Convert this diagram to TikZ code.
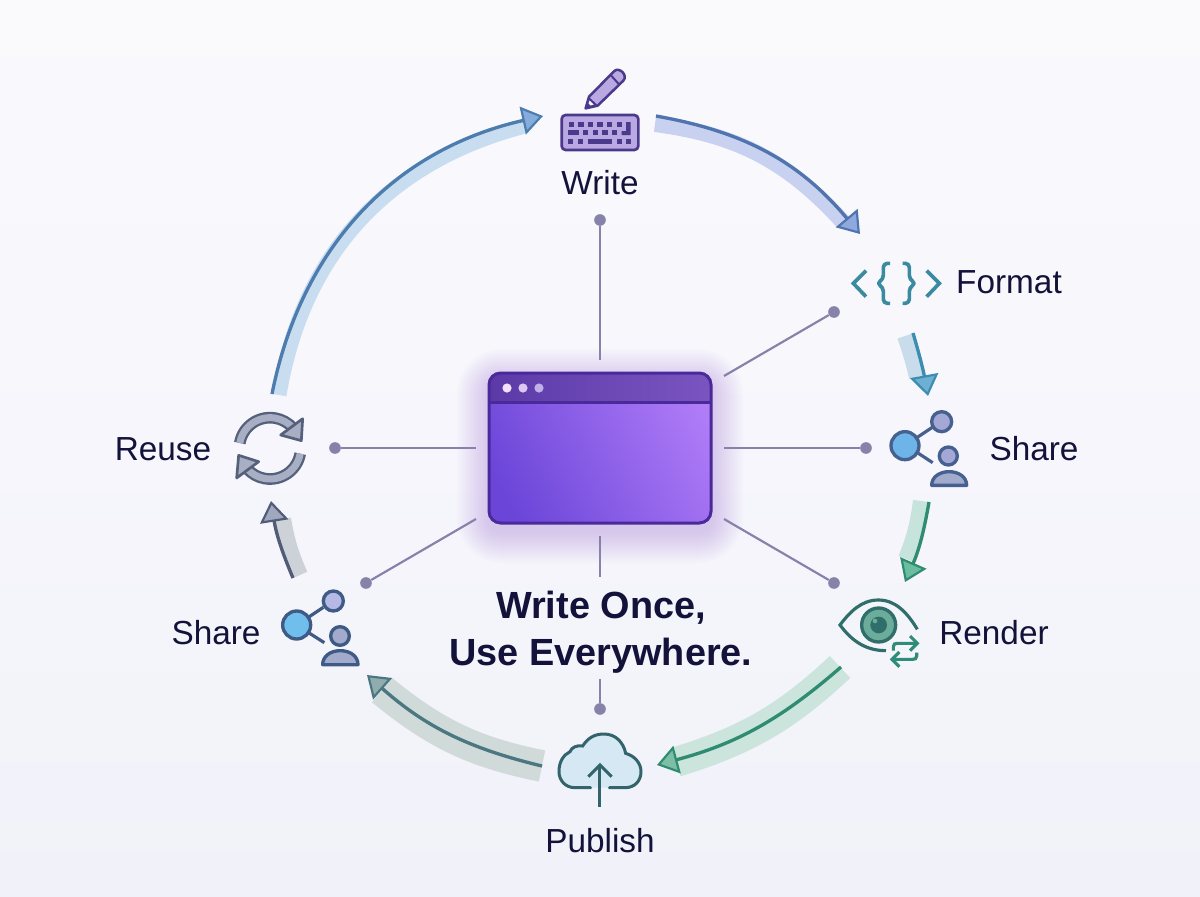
\documentclass[tikz,border=0pt]{standalone}
\usepackage{fontspec}
\setmainfont{Liberation Sans}
\usetikzlibrary{arrows.meta,calc}
\definecolor{ink}{HTML}{12123A}
\definecolor{spoke}{HTML}{8682AA}
\definecolor{kbd}{HTML}{4A3A8C}
\definecolor{kbf}{HTML}{B9A8E2}
\definecolor{fmt}{HTML}{3A8AA0}
\definecolor{eyec}{HTML}{2F6E6A}
\definecolor{eyeF}{HTML}{6CAC9A}
\definecolor{rep}{HTML}{2F8C78}
\definecolor{cloudc}{HTML}{33636B}
\definecolor{cloudF}{HTML}{D5E8F4}
\definecolor{shareS}{HTML}{46618F}
\definecolor{shareT}{HTML}{3F5A85}
\definecolor{shareB}{HTML}{6DB5E8}
\definecolor{shareC}{HTML}{A3A8D6}
\definecolor{shareD}{HTML}{A3ABCD}
\definecolor{shareE}{HTML}{6FBEEB}
\definecolor{shareF}{HTML}{B6B8E6}
\definecolor{reuD}{HTML}{55607A}
\definecolor{reuF}{HTML}{A8AFC4}
\definecolor{bgA}{HTML}{FAFAFD}
\definecolor{bgB}{HTML}{F6F6FC}
\definecolor{bgC}{HTML}{F1F1F9}
\definecolor{glow}{HTML}{7B4FE0}
\definecolor{hubA}{HTML}{6A45D8}
\definecolor{hubB}{HTML}{B07CF8}
\definecolor{hubE}{HTML}{4A2A9A}
\definecolor{barA}{HTML}{5B3AA8}
\definecolor{barB}{HTML}{7A55C0}
\definecolor{dotA}{HTML}{F6E0FA}
\definecolor{dotB}{HTML}{DCC8F0}
\definecolor{dotC}{HTML}{BFB0E8}
\definecolor{arcA}{HTML}{C9D1F0}
\definecolor{edgeA}{HTML}{4F74AE}
\definecolor{tipA}{HTML}{8FA8DE}
\definecolor{arcB}{HTML}{C8DCEB}
\definecolor{edgeB}{HTML}{3D8DB0}
\definecolor{tipB}{HTML}{6DB0D4}
\definecolor{arcC}{HTML}{C6E3DC}
\definecolor{edgeC}{HTML}{2F8C70}
\definecolor{tipC}{HTML}{6BBDA0}
\definecolor{arcD}{HTML}{CBE5DC}
\definecolor{tipD}{HTML}{7DBFA5}
\definecolor{arcE}{HTML}{CFDAD9}
\definecolor{edgeE}{HTML}{4B7780}
\definecolor{tipE}{HTML}{90ACAF}
\definecolor{arcF}{HTML}{CDD2D8}
\definecolor{edgeF}{HTML}{525C78}
\definecolor{tipF}{HTML}{9FA8BC}
\definecolor{arcG}{HTML}{C9DDF0}
\definecolor{edgeG}{HTML}{4C7DAE}
\definecolor{tipG}{HTML}{85ACDC}
\tikzset{
  lbl/.style={text=ink,font=\fontsize{20}{24}\selectfont,inner sep=0pt},
  spokeline/.style={draw=spoke,line width=1.3pt},
  hubdot/.style={circle,fill=spoke,minimum size=7pt,inner sep=0pt},
  flowtip/.style={line width=2pt,-{Triangle[length=12.5pt,width=17pt,line width=1.3pt,fill=#1]}},
}
\newcommand{\flowarc}[9]{%
  \draw[color=#3,line width=#4] (#1) to[bend left=#5] (#2);
  \draw[color=#8,flowtip=#9] (#6) to[bend left=#5] (#7);
}
\begin{document}
\begin{tikzpicture}[x=.6pt,y=-.6pt]
\useasboundingbox (0,0) rectangle (1200,896);
\shade[top color=bgA,bottom color=bgC,middle color=bgB] (0,0) rectangle (1200,896);

% glow
\foreach \g in {1,...,16}
  \fill[glow,opacity=.017,rounded corners=(6+1.3*\g)*1pt] (489-2*\g,381-2*\g) rectangle (711+2*\g,531+2*\g);

% hub
\node[minimum width=133.2pt,minimum height=90pt,inner sep=0pt,outer sep=0pt,rounded corners=7pt,fill=hubA] (hub) at (600,448) {};
\begin{scope}
  \clip[rounded corners=7pt] (hub.south west) rectangle (hub.north east);
  \shade[left color=hubA,right color=hubB,shading angle=118] (480,360) rectangle (720,535);
  \shade[left color=barA,right color=barB] (489,373) rectangle (711,402);
  \draw[color=hubE,line width=1.8pt] (489,402) -- (711,402);
\end{scope}
\draw[color=hubE,line width=1.8pt,rounded corners=7pt] (hub.south west) rectangle (hub.north east);
\fill[color=dotA] (507,388) circle (4.6);
\fill[color=dotB] (523,388) circle (4.6);
\fill[color=dotC] (539,388) circle (4.6);

% spokes
\node[hubdot] (dN) at (600,220) {};
\node[hubdot] (dNE) at (834,312) {};
\node[hubdot] (dE) at (866,448) {};
\node[hubdot] (dSE) at (834,583) {};
\node[hubdot] (dS) at (600,709) {};
\node[hubdot] (dSW) at (366,583) {};
\node[hubdot] (dW) at (335,448) {};
\coordinate (sN) at (600,360);
\coordinate (sNE) at (724,376);
\coordinate (sE) at (724,448);
\coordinate (sSE) at (724,519);
\coordinate (sS) at (600,536);
\coordinate (sSa) at (600,577);
\coordinate (sSb) at (600,679);
\coordinate (sSW) at (476,519);
\coordinate (sW) at (476,448);
\draw[spokeline] (sN) -- (dN);
\draw[spokeline] (sNE) -- (dNE);
\draw[spokeline] (sE) -- (dE);
\draw[spokeline] (sSE) -- (dSE);
\draw[spokeline] (sS) -- (sSa);
\draw[spokeline] (sSb) -- (dS);
\draw[spokeline] (sSW) -- (dSW);
\draw[spokeline] (sW) -- (dW);

% flow arcs
\coordinate (b1a) at (655,124); \coordinate (b1b) at (843,222);
\coordinate (e1a) at (656,116); \coordinate (e1b) at (860,234);
\flowarc{b1a}{b1b}{arcA}{9.6pt}{20}{e1a}{e1b}{edgeA}{tipA}
\coordinate (b2a) at (905,336); \coordinate (b2b) at (917,377);
\coordinate (e2a) at (913,333); \coordinate (e2b) at (928,396);
\flowarc{b2a}{b2b}{arcB}{9.6pt}{3}{e2a}{e2b}{edgeB}{tipB}
\coordinate (b3a) at (921,501); \coordinate (b3b) at (906,559);
\coordinate (e3a) at (929,502); \coordinate (e3b) at (905,582);
\flowarc{b3a}{b3b}{arcC}{9.6pt}{7}{e3a}{e3b}{edgeC}{tipC}
\coordinate (b4a) at (840,667); \coordinate (b4b) at (676,762);
\coordinate (e4a) at (841,667); \coordinate (e4b) at (657,765);
\flowarc{b4a}{b4b}{arcD}{18pt}{13}{e4a}{e4b}{edgeC}{tipD}
\coordinate (b5a) at (542,766); \coordinate (b5b) at (382,690);
\coordinate (e5a) at (542,766); \coordinate (e5b) at (367,675);
\flowarc{b5a}{b5b}{arcE}{19pt}{14}{e5a}{e5b}{edgeE}{tipE}
\coordinate (b6a) at (300,575); \coordinate (b6b) at (283,519);
\coordinate (e6a) at (293,578); \coordinate (e6b) at (271,501);
\flowarc{b6a}{b6b}{arcF}{9.6pt}{7}{e6a}{e6b}{edgeF}{tipF}
\coordinate (b7a) at (279,395); \coordinate (b7b) at (525,126);
\coordinate (e7a) at (272,394); \coordinate (e7b) at (543,116);
\flowarc{b7a}{b7b}{arcG}{9pt}{33}{e7a}{e7b}{edgeG}{tipG}

% keyboard + pencil
\begin{scope}[shift={(520,50)},x=.2pt,y=-.2pt]
  \draw[color=kbd,fill=kbf,line width=1.6pt,rounded corners=2.4pt] (125,195) rectangle (355,300);
  \foreach \k in {155,183,212,240,269,298} \fill[kbd] (\k-8,216) rectangle (\k+8,230);
  \fill[kbd] (318,216) -- (332,216) -- (332,255) -- (305,255) -- (305,243) -- (318,243) -- cycle;
  \fill[kbd] (145,241) rectangle (178,255);
  \foreach \k in {197,226,255,284} \fill[kbd] (\k-8,241) rectangle (\k+8,255);
  \foreach \k in {152,181,298,326} \fill[kbd] (\k-8,267) rectangle (\k+8,281);
  \fill[kbd] (205,267) rectangle (275,281);
  \draw[color=kbd,fill=kbf,line width=1.5pt,line join=round] (197,175) -- (207,140) -- (283,63) .. controls (297,50) and (325,75) .. (310,92) -- (233,167) -- cycle;
  \draw[color=kbd,fill=white!85!kbf,line width=1.2pt,line join=round] (197,175) -- (207,145) -- (228,165) -- cycle;
  \fill[kbd] (197,175) -- (203,158) -- (214,169) -- cycle;
  \draw[color=kbd,line width=1.2pt] (272,75) -- (298,104);
\end{scope}

% format icon
\begin{scope}[shift={(820,250)},x=.2pt,y=-.2pt]
  \draw[color=fmt,line width=2.2pt] (138,62) -- (100,100) -- (138,140);
  \draw[color=fmt,line width=2.2pt] (320,62) -- (358,100) -- (320,140);
  \draw[color=fmt,line width=2.2pt,line join=round,rounded corners=2.4pt] (210,40) -- (190,40) -- (190,88) -- (170,100) -- (190,112) -- (190,160) -- (210,160);
  \draw[color=fmt,line width=2.2pt,line join=round,rounded corners=2.4pt] (248,40) -- (268,40) -- (268,88) -- (288,100) -- (268,112) -- (268,160) -- (248,160);
\end{scope}

% share right
\begin{scope}[shift={(820,250)},x=.2pt,y=-.2pt]
  \draw[color=shareS,line width=1.9pt] (280,570) -- (340,530);
  \draw[color=shareS,line width=1.9pt] (280,600) -- (338,638);
  \draw[color=shareS,fill=shareB,line width=2pt] (255,587) circle (42);
  \draw[color=shareS,fill=shareC,line width=2pt] (365,515) circle (30);
  \draw[color=shareS,fill=shareC,line width=2pt] (385,618) circle (27);
  \draw[color=shareS,fill=shareD,line width=2pt,line join=round] (335,706) .. controls (335,680) and (360,665) .. (387,665) .. controls (415,665) and (440,680) .. (440,706) -- cycle;
\end{scope}

% share left
\begin{scope}[shift={(160,490)},x=.2pt,y=-.2pt]
  \draw[color=shareT,line width=1.9pt] (430,392) -- (490,352);
  \draw[color=shareT,line width=1.9pt] (430,418) -- (493,458);
  \draw[color=shareT,fill=shareE,line width=2pt] (410,405) circle (42);
  \draw[color=shareT,fill=shareF,line width=2pt] (520,333) circle (30);
  \draw[color=shareT,fill=shareD,line width=2pt] (540,438) circle (28);
  \draw[color=shareT,fill=shareD,line width=2pt,line join=round] (488,524) .. controls (488,498) and (512,482) .. (541,482) .. controls (570,482) and (594,498) .. (594,524) -- cycle;
\end{scope}

% render (eye)
\begin{scope}[shift={(640,490)},x=.2pt,y=-.2pt]
  \draw[color=eyec,line width=1.9pt] (832,418) .. controls (800,365) and (765,330) .. (715,330) .. controls (665,330) and (630,365) .. (600,405) .. controls (630,445) and (670,482) .. (738,482);
  \draw[color=eyec,fill=eyeF,line width=2pt] (716,405) circle (51);
  \fill[eyec] (716,405) circle (25);
  \fill[eyeF] (705,393) circle (7);
  \draw[color=rep,line width=1.9pt] (760,482) -- (760,470) .. controls (760,462) and (765,460) .. (772,460) -- (830,460);
  \draw[color=rep,line width=1.9pt] (810,438) -- (832,460) -- (810,482);
  \draw[color=rep,line width=1.9pt] (830,488) -- (830,498) .. controls (830,506) and (825,508) .. (818,508) -- (757,508);
  \draw[color=rep,line width=1.9pt] (778,486) -- (756,508) -- (778,530);
\end{scope}

% cloud
\begin{scope}[shift={(340,660)},x=.2pt,y=-.2pt]
  \draw[color=cloudc,fill=cloudF,line width=1.8pt,line cap=round] (752,383) -- (705,383) .. controls (675,383) and (657,360) .. (657,335) .. controls (657,305) and (670,285) .. (690,275) .. controls (695,262) and (710,255) .. (728,258) .. controls (745,232) and (765,222) .. (792,222) .. controls (825,222) and (850,245) .. (857,280) .. controls (885,288) and (903,310) .. (903,335) .. controls (903,362) and (885,383) .. (855,383) -- (808,383);
  \draw[color=cloudc,line width=1.8pt] (780,440) -- (780,315);
  \draw[color=cloudc,line width=1.8pt] (745,350) -- (780,315) -- (815,350);
\end{scope}

% reuse
\begin{scope}[shift={(100,380)},x=.2pt,y=-.2pt]
  \coordinate (rc) at (510,205);
  \draw[color=reuD,line width=7pt] ($(rc)+(190:92)$) arc[start angle=190,end angle=318,radius=92];
  \draw[color=reuF,line width=4.2pt] ($(rc)+(190:92)$) arc[start angle=190,end angle=318,radius=92];
  \draw[color=reuD,fill=reuF,line width=1.6pt,line join=round] (608,116) -- (604,182) -- (542,165) -- cycle;
  \draw[color=reuD,line width=7pt] ($(rc)+(10:92)$) arc[start angle=10,end angle=138,radius=92];
  \draw[color=reuF,line width=4.2pt] ($(rc)+(10:92)$) arc[start angle=10,end angle=138,radius=92];
  \draw[color=reuD,fill=reuF,line width=1.6pt,line join=round] (410,294) -- (416,226) -- (476,245) -- cycle;
\end{scope}

% labels
\node[lbl] (lWrite) at (600,183) {Write};
\node[lbl] (lFormat) at (1009,282) {Format};
\node[lbl] (lShareR) at (1034,449) {Share};
\node[lbl] (lRender) at (994,633) {Render};
\node[lbl] (lPublish) at (600,841) {Publish};
\node[lbl] (lShareL) at (216,633) {Share};
\node[lbl] (lReuse) at (163,449) {Reuse};
\node[text=ink,font=\bfseries\fontsize{22.7}{28.2}\selectfont,align=center,inner sep=0pt] (title) at (601,632) {Write Once,\\Use Everywhere.};
\end{tikzpicture}
\end{document}
